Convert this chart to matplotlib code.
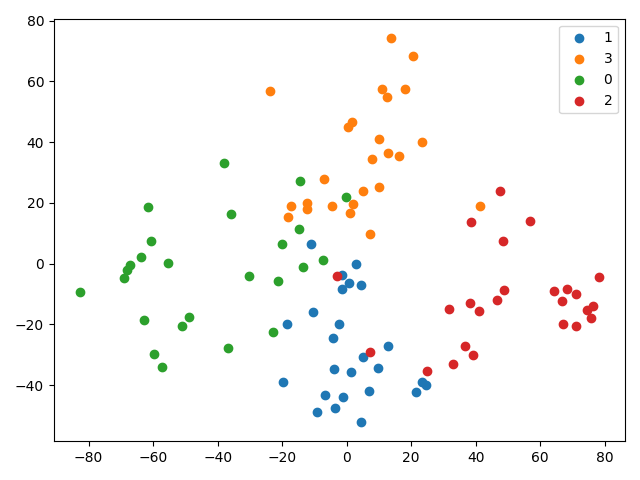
import matplotlib
matplotlib.use("Agg")
import matplotlib.pyplot as plt

# cluster labels in legend order
labels = ["1", "3", "0", "2"]

x1 = [-11.1, 2.9, -1.6, 0.7, -1.6, 4.4, -10.5, -18.5, -2.4, -4.3, 12.8, 5.0, 9.6,
      1.2, -3.9, 6.9, -19.8, -6.7, -1.0, -3.6, -9.2, 4.4, 23.2, 24.6, 21.5]
y1 = [6.3, 0.0, -3.9, -6.3, -8.3, -6.9, -15.8, -19.9, -19.9, -24.5, -27.1, -30.7, -34.4,
      -35.7, -34.7, -41.9, -39.0, -43.2, -43.9, -47.6, -48.8, -52.2, -39.0, -40.0, -42.3]

x3 = [13.7, 20.6, -23.8, 11.0, 18.1, 12.5, 1.6, 0.4, 10.0, 23.4, 12.8, 7.8, 16.2,
      5.0, 10.0, -7.0, -17.3, -12.3, -12.3, -4.6, -18.2, 2.0, 1.0, 7.2, 41.3]
y3 = [74.4, 68.4, 56.9, 57.6, 57.6, 54.9, 46.7, 45.0, 41.2, 40.1, 36.5, 34.5, 35.3,
      24.0, 25.3, 27.9, 19.0, 20.0, 18.0, 19.0, 15.4, 19.7, 16.7, 9.8, 19.0]

x0 = [-82.7, -69.1, -68.1, -67.1, -63.8, -60.7, -61.6, -55.4, -62.9, -48.9, -51.1, -59.8, -57.3,
      -36.8, -30.3, -21.3, -22.9, -20.1, -14.8, -13.6, -7.4, -38.1, -14.5, -0.2, -35.9]
y0 = [-9.3, -4.7, -2.0, -0.6, 2.2, 7.5, 18.7, 0.2, -18.6, -17.6, -20.5, -29.8, -34.0,
      -27.8, -4.1, -5.7, -22.5, 6.3, 11.5, -1.1, 1.2, 33.2, 27.3, 22.0, 16.4]

x2 = [47.5, 38.5, 56.8, 48.5, 78.2, 64.3, 68.3, 71.1, 66.7, 48.9, 46.6, 38.2, 41.0,
      31.7, 74.5, 76.4, 75.8, 67.1, 71.1, 36.7, 39.2, 33.0, 24.9, 7.1, -3.1]
y2 = [24.0, 13.8, 14.1, 7.5, -4.4, -9.0, -8.3, -10.0, -12.3, -8.7, -12.0, -13.0, -15.6,
      -14.9, -15.2, -13.8, -17.9, -19.9, -20.5, -27.1, -30.1, -33.1, -35.4, -29.1, -4.0]

xs = [x1, x3, x0, x2]
ys = [y1, y3, y0, y2]

fig, ax = plt.subplots(figsize=(6.4, 4.8), dpi=100)
for lab, x, y in zip(labels, xs, ys):
    ax.scatter(x, y, label=lab)
ax.legend()
fig.tight_layout()
fig.savefig("out.png")
